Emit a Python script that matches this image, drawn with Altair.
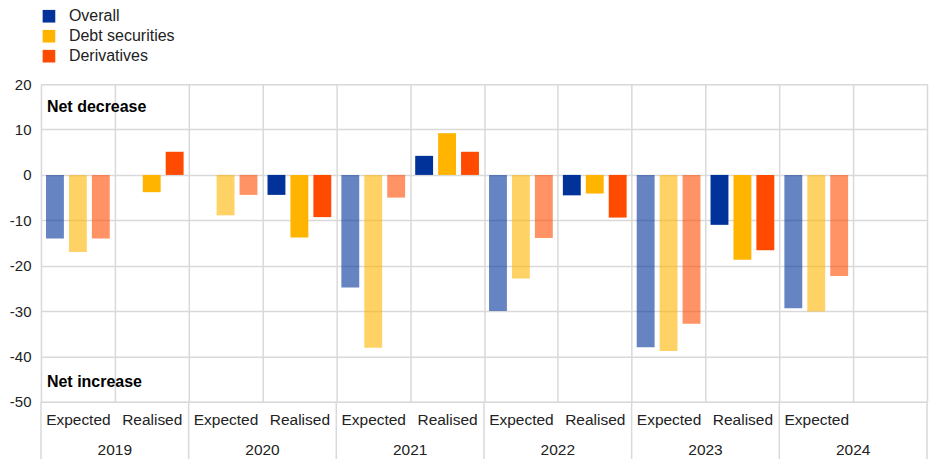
import altair as alt
import pandas as pd
import json

years = ["2019", "2020", "2021", "2022", "2023", "2024"]
kinds = ["Expected", "Realised"]
series = ["Overall", "Debt securities", "Derivatives"]
colors = ["#003299", "#FFB400", "#FF4B00"]

# values per slot: 2019 Exp, 2019 Real, 2020 Exp, 2020 Real, ... 2024 Exp, 2024 Real
overall = [-14.0, None, None, -4.4, -24.8, 4.2, -30.0, -4.5, -38.0, -11.0, -29.4, None]
debt = [-17.0, -3.8, -8.9, -13.8, -38.1, 9.2, -22.8, -4.1, -38.8, -18.7, -30.1, None]
deriv = [-14.0, 5.1, -4.4, -9.3, -5.0, 5.1, -13.9, -9.4, -32.8, -16.6, -22.3, None]

notes = ["Net decrease", "Net increase"]
note_y = [15.0, -45.6]

slots = [f"{y}|{k}" for y in years for k in kinds]

rows = []
for s, vals in zip(series, [overall, debt, deriv]):
    for slot, v in zip(slots, vals):
        if v is not None:
            rows.append({"slot": slot, "series": s, "value": v, "kind": slot.split("|")[1]})
df = pd.DataFrame(rows)

empty_slots = [s for s in slots if s not in set(df["slot"])]

W, H = 887, 318
FONT = "Liberation Sans"

x_scale = alt.Scale(domain=slots, paddingInner=0, paddingOuter=0)
x_axis = alt.Axis(
    title=None,
    labelExpr=f"indexof({json.dumps(empty_slots)}, datum.value) >= 0 ? '' : split(datum.value, '|')[1]",
    grid=True,
    gridColor="#d9d9d9",
    gridWidth=1.5,
    tickBand="extent",
    ticks=False,
    domain=False,
    labelAngle=0,
    labelFontSize=15.5,
    labelPadding=11,
    labelColor="#222222",
    labelFont=FONT,
)


def xenc(band=None):
    if band is None:
        return alt.X("slot:N", scale=x_scale, axis=x_axis)
    return alt.X("slot:N", scale=x_scale, axis=x_axis, bandPosition=band)


y_enc = alt.Y(
    "value:Q",
    scale=alt.Scale(domain=[-50, 20], nice=False, zero=False),
    axis=alt.Axis(
        title=None,
        values=[-50, -40, -30, -20, -10, 0, 10, 20],
        labelExpr="datum.value + ''",
        grid=True,
        gridColor="#d9d9d9",
        gridWidth=1.5,
        ticks=False,
        domain=False,
        labelFontSize=15,
        labelPadding=10,
        labelColor="#222222",
        labelFont=FONT,
    ),
)

bars = alt.Chart(df).mark_bar().encode(
    x=xenc(),
    xOffset=alt.XOffset("series:N", scale=alt.Scale(domain=series, paddingInner=0.22, paddingOuter=0.22)),
    y=y_enc,
    color=alt.Color(
        "series:N",
        scale=alt.Scale(domain=series, range=colors),
        legend=alt.Legend(
            title=None,
            orient="none",
            legendX=0,
            legendY=-76,
            direction="vertical",
            symbolType="square",
            symbolSize=160,
            symbolStrokeWidth=0,
            labelFontSize=16,
            labelFont=FONT,
            labelColor="#222222",
            labelOffset=12,
            rowPadding=4,
        ),
    ),
    fillOpacity=alt.FillOpacity("kind:N", scale=alt.Scale(domain=kinds, range=[0.6, 1.0]), legend=None),
)

bound_df = pd.DataFrame({"slot": [f"{y}|Expected" for y in years]})
end_df = pd.DataFrame({"slot": [f"{years[-1]}|Realised"]})

bounds = alt.Chart(bound_df).mark_rule(color="#d9d9d9", strokeWidth=1.5).encode(
    x=xenc(0), y=alt.value(H), y2=alt.value(H + 58)
)
bound_end = alt.Chart(end_df).mark_rule(color="#d9d9d9", strokeWidth=1.5).encode(
    x=xenc(1), y=alt.value(H), y2=alt.value(H + 58)
)

year_df = pd.DataFrame({"slot": [f"{y}|Realised" for y in years], "year": years})
year_text = alt.Chart(year_df).mark_text(
    fontSize=15.5, font=FONT, color="#222222", baseline="middle", align="center"
).encode(x=xenc(0), y=alt.value(H + 48), text="year:N")

note_df = pd.DataFrame({"note": notes, "value": note_y})
note_text = alt.Chart(note_df).mark_text(
    fontSize=16, font=FONT, fontWeight="bold", color="#000000", align="left", baseline="middle"
).encode(x=alt.value(6), y=alt.Y("value:Q"), text="note:N")

chart = (
    alt.layer(bars, bounds, bound_end, year_text, note_text)
    .properties(
        width=W,
        height=H,
        autosize="none",
        padding={"left": 33, "top": 76, "right": 10, "bottom": 57},
    )
    .configure_view(stroke=None)
    .configure(font=FONT)
)

chart.save("out.html", embed_options={"renderer": "svg", "actions": False})
